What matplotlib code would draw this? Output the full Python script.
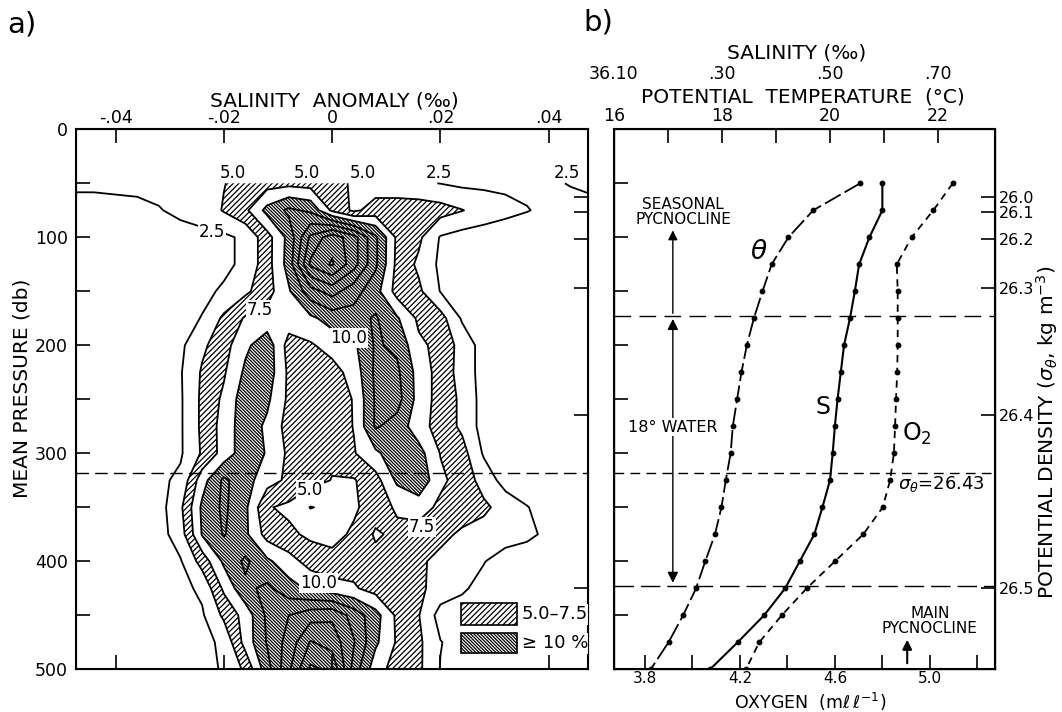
import numpy as np
import matplotlib
matplotlib.use('Agg')
import matplotlib.pyplot as plt
from matplotlib.patches import Rectangle

plt.rcParams['font.family'] = ['DejaVu Sans']
plt.rcParams['hatch.color'] = 'black'
plt.rcParams['hatch.linewidth'] = 0.9
plt.rcParams['mathtext.fontset'] = 'dejavusans'

# ---- a) frequency (%) of salinity anomaly vs pressure ----
anomaly = [-0.048, -0.044, -0.040, -0.036, -0.032, -0.028, -0.024, -0.020, -0.016,
           -0.012, -0.008, -0.004, 0.0, 0.004, 0.008, 0.012, 0.016, 0.020, 0.024,
           0.028, 0.032, 0.036, 0.040, 0.044, 0.048]
grid_pressure = [50, 75, 100, 125, 150, 175, 200, 225, 250, 275, 300, 325, 350,
                 375, 400, 425, 450, 475, 500]
freq = [
    [3.0, 3.0, 3.0, 3.0, 3.0, 3.2, 3.8, 4.9, 6.0, 6.5, 6.8, 6.5, 5.5, 4.8, 3.8, 3.2, 2.8, 2.45, 2.0, 2.0, 2.0, 2.0, 2.2, 2.6, 3.0],
    [1.5, 1.5, 1.8, 2.0, 2.4, 2.9, 3.5, 5.2, 7.0, 10.8, 13.0, 12.0, 7.0, 4.5, 6.0, 6.5, 6.5, 6.0, 5.1, 4.0, 3.2, 2.6, 2.0, 1.8, 1.8],
    [1.0, 1.0, 1.2, 1.4, 1.6, 1.8, 1.9, 2.0, 3.0, 6.5, 10.8, 18.0, 21.5, 18.5, 13.0, 7.0, 5.5, 2.3, 1.5, 1.2, 1.0, 1.0, 1.0, 1.0, 1.0],
    [1.0, 1.0, 1.0, 1.2, 1.4, 1.6, 1.8, 2.0, 3.0, 6.5, 11.0, 20.5, 22.8, 18.5, 13.0, 6.8, 4.5, 2.0, 1.5, 1.2, 1.0, 1.0, 1.0, 1.0, 1.0],
    [1.0, 1.0, 1.0, 1.0, 1.2, 1.5, 2.0, 2.8, 4.5, 6.5, 9.7, 14.0, 16.0, 13.5, 11.0, 6.5, 5.5, 2.4, 1.5, 1.0, 1.0, 1.0, 1.0, 1.0, 1.0],
    [0.8, 0.8, 1.0, 1.1, 1.3, 1.7, 2.6, 5.5, 7.8, 8.5, 8.8, 9.5, 11.0, 11.5, 12.8, 10.3, 7.0, 6.0, 2.2, 1.4, 1.0, 0.8, 0.8, 0.8, 0.8],
    [0.8, 0.8, 1.0, 1.2, 1.5, 2.0, 4.5, 6.5, 9.5, 11.5, 6.5, 7.2, 8.5, 9.5, 12.8, 12.0, 8.0, 6.8, 4.0, 1.5, 1.0, 0.8, 0.8, 0.8, 0.8],
    [0.8, 0.8, 1.0, 1.2, 1.5, 2.3, 5.3, 7.2, 10.5, 11.5, 7.0, 6.0, 6.5, 8.5, 13.0, 13.0, 9.0, 6.5, 4.0, 1.5, 1.0, 0.8, 0.8, 0.8, 0.8],
    [0.8, 0.8, 1.0, 1.2, 1.5, 2.2, 5.5, 8.0, 11.5, 10.5, 7.0, 6.0, 6.5, 7.6, 12.8, 13.5, 9.0, 6.5, 4.5, 1.5, 1.0, 0.8, 0.8, 0.8, 0.8],
    [0.8, 0.8, 1.0, 1.2, 1.5, 2.2, 5.5, 8.5, 11.5, 9.5, 6.5, 6.0, 6.0, 7.6, 12.8, 11.5, 8.5, 6.5, 4.5, 1.5, 1.0, 0.8, 0.8, 0.8, 0.8],
    [0.8, 0.8, 1.0, 1.2, 1.5, 2.2, 5.3, 8.5, 11.5, 9.8, 7.0, 6.0, 5.5, 7.3, 9.5, 11.5, 11.0, 7.4, 6.0, 2.2, 1.2, 0.9, 0.9, 0.9, 0.9],
    [0.8, 0.8, 1.0, 1.2, 2.0, 3.0, 9.0, 13.0, 11.0, 8.5, 7.0, 6.0, 4.9, 4.8, 6.5, 10.5, 12.0, 8.0, 6.5, 4.0, 1.5, 1.0, 0.9, 0.9, 0.9],
    [0.8, 0.8, 1.0, 1.3, 1.5, 4.5, 10.5, 13.0, 10.5, 5.2, 4.5, 2.4, 3.0, 4.5, 6.5, 7.8, 8.5, 7.0, 6.5, 5.5, 4.0, 2.6, 1.5, 1.0, 0.8],
    [0.8, 0.8, 1.0, 1.3, 1.5, 3.8, 10.2, 12.7, 10.5, 6.5, 5.5, 4.5, 4.0, 5.5, 7.8, 7.0, 6.5, 5.8, 4.5, 4.0, 3.5, 3.0, 2.0, 1.2, 1.0],
    [0.8, 0.8, 1.0, 1.3, 1.8, 2.3, 6.0, 10.5, 13.0, 10.5, 8.5, 6.5, 6.0, 6.5, 6.8, 6.5, 5.5, 4.2, 3.5, 2.6, 1.5, 1.2, 1.0, 0.8, 0.8],
    [0.8, 0.8, 1.0, 1.3, 1.5, 1.8, 3.0, 8.0, 12.0, 13.0, 11.0, 9.5, 8.5, 7.8, 6.5, 6.0, 5.5, 4.0, 2.8, 1.8, 1.0, 1.0, 1.0, 1.0, 1.0],
    [0.8, 0.8, 0.9, 1.0, 1.3, 1.6, 2.2, 5.5, 8.5, 13.0, 15.0, 16.5, 17.0, 14.0, 11.0, 7.0, 5.1, 1.5, 1.5, 1.2, 1.0, 1.0, 1.0, 1.0, 1.0],
    [0.8, 0.8, 0.8, 0.9, 1.0, 1.3, 1.8, 3.0, 8.5, 12.7, 16.0, 20.2, 19.0, 15.2, 10.5, 7.2, 5.5, 2.6, 1.5, 1.2, 1.0, 1.0, 1.0, 1.0, 1.0],
    [0.8, 0.8, 0.8, 0.9, 1.0, 1.2, 1.6, 2.8, 5.5, 11.5, 17.0, 23.0, 22.0, 14.0, 8.5, 6.5, 5.5, 2.4, 1.5, 1.0, 1.0, 1.0, 1.0, 1.0, 1.0],
]
line_levels = [2.5, 5.0, 7.5, 10.0, 12.5, 15.0, 17.5, 20.0, 22.5]
anomaly_ticks = [-0.04, -0.02, 0.0, 0.02, 0.04]
anomaly_ticklabels = ['-.04', '-.02', '0', '.02', '.04']

# ---- b) mean profiles ----
profile_pressure = [50, 75, 100, 125, 150, 175, 200, 225, 250, 275, 300, 325, 350,
                    375, 400, 425, 450, 475, 500]
theta = [20.56, 19.69, 19.23, 18.92, 18.75, 18.59, 18.46, 18.36, 18.28, 18.20,
         18.16, 18.07, 17.99, 17.87, 17.69, 17.52, 17.28, 17.01, 16.68]
salinity = [36.597, 36.597, 36.573, 36.554, 36.546, 36.537, 36.526, 36.520, 36.514,
            36.509, 36.505, 36.500, 36.486, 36.471, 36.444, 36.417, 36.378, 36.329, 36.278]
oxygen = [5.096, 5.014, 4.923, 4.860, 4.864, 4.864, 4.864, 4.862, 4.857, 4.853,
          4.848, 4.832, 4.801, 4.719, 4.600, 4.481, 4.376, 4.281, 4.225]
density_pressure = [62.5, 77, 102, 147, 264.5, 425]
density_labels = ['26.0', '26.1', '26.2', '26.3', '26.4', '26.5']
seasonal_top = 173       # top of 18 degree water
sigma_2643 = 318.5       # sigma_theta = 26.43
main_top = 422.5         # sigma_theta = 26.5

LIGHT = '/' * 6
DENSE = '\\' * 10


def fx(px):
    return px / 1062.0


def fy(py):
    return 1 - py / 712.0


fig = plt.figure(figsize=(10.62, 7.12), dpi=100)

# ================= panel a =================
ax = fig.add_axes([fx(76), fy(669.3), fx(587.7) - fx(76), fy(129.3) - fy(669.3)])
A, P = np.meshgrid(anomaly, grid_pressure)
Z = np.array(freq)
ax.contourf(A, P, Z, levels=[5.0, 7.5], colors='none', hatches=[LIGHT])
ax.contourf(A, P, Z, levels=[10.0, 100.0], colors='none', hatches=[DENSE])
ax.contour(A, P, Z, levels=line_levels, colors='k', linewidths=1.3)
ax.axhline(sigma_2643, color='k', lw=1.0, ls=(0, (9, 4.5)))

ax.set_xlim(-0.0473, 0.0472)
ax.set_ylim(500, 0)
ax.xaxis.tick_top()
ax.set_xticks(anomaly_ticks)
ax.set_xticklabels(anomaly_ticklabels)
ax.set_yticks([0, 100, 200, 300, 400, 500])
ax.set_yticks([50, 150, 250, 350, 450], minor=True)
ax.tick_params(axis='both', which='both', direction='in', length=10, width=1.2,
               labelsize=12.5, top=True, bottom=True, left=True, right=False)
ax.tick_params(axis='x', pad=2)
ax.tick_params(axis='y', pad=6)
for sp in ax.spines.values():
    sp.set_linewidth(1.5)

# density ticks on the right spine of a
axr = ax.twinx()
axr.set_ylim(500, 0)
axr.set_yticks(density_pressure)
axr.set_yticklabels([])
axr.tick_params(axis='y', direction='in', length=10, width=1.2)

# contour labels
lab = dict(fontsize=12, ha='center', va='center')
box = dict(fc='white', ec='none', pad=0.6)
for xa in [-0.0183, -0.0046, 0.00575]:
    ax.text(xa, 40, '5.0', **lab)
ax.text(0.0197, 40, '2.5', **lab)
ax.text(0.0434, 40, '2.5', **lab)
ax.text(-0.0222, 95, '2.5', bbox=box, **lab)
ax.text(-0.0134, 167, '7.5', bbox=box, **lab)
ax.text(0.0031, 193, '10.0', bbox=box, **lab)
ax.text(-0.0041, 334, '5.0', bbox=box, **lab)
ax.text(0.0166, 368, '7.5', bbox=box, **lab)
ax.text(-0.0025, 420, '10.0', bbox=box, **lab)

# legend boxes
ax.add_patch(Rectangle((0.0238, 439), 0.0103, 20, facecolor='white', edgecolor='k',
                       hatch=LIGHT, lw=1.2, zorder=5))
ax.add_patch(Rectangle((0.0238, 466), 0.0103, 19, facecolor='white', edgecolor='k',
                       hatch=DENSE, lw=1.2, zorder=5))
ax.text(0.0350, 449, '5.0\u20137.5', fontsize=13, va='center', ha='left', zorder=6,
        bbox=dict(fc='white', ec='none', pad=1))
ax.text(0.0350, 476, '\u2265 10 %', fontsize=13, va='center', ha='left', zorder=6,
        bbox=dict(fc='white', ec='none', pad=1))

fig.text(fx(334), fy(101), 'SALINITY  ANOMALY (\u2030)', fontsize=14.5, ha='center', va='center')
fig.text(fx(22), fy(388), 'MEAN PRESSURE (db)', fontsize=14.5, rotation=90, ha='center', va='center')
fig.text(fx(22), fy(25), 'a)', fontsize=21, ha='center', va='center')

# ================= panel b =================
axb = fig.add_axes([fx(614), fy(669.3), fx(995) - fx(614), fy(129.3) - fy(669.3)])
axb.set_xlim(3.6695, 5.2737)
axb.set_ylim(500, 0)
axb.set_xticks([3.8, 4.0, 4.2, 4.4, 4.6, 4.8, 5.0, 5.2])
axb.set_xticklabels(['3.8', '', '4.2', '', '4.6', '', '5.0', ''])
axb.set_yticks([50, 100, 150, 200, 250, 300, 350, 400, 450])
axb.set_yticklabels([])
axb.tick_params(axis='both', direction='in', length=10, width=1.2, labelsize=11,
                top=False, right=False)
axb.tick_params(axis='x', pad=1)
for sp in axb.spines.values():
    sp.set_linewidth(1.5)

axb.axhline(seasonal_top, color='k', lw=1.0, ls=(0, (12, 6)))
axb.axhline(sigma_2643, color='k', lw=1.0, ls=(0, (7, 4.5)))
axb.axhline(main_top, color='k', lw=1.0, ls=(0, (14, 5)))
axb.plot(oxygen, profile_pressure, color='k', lw=1.3, ls=(0, (4, 3)),
         marker='o', ms=3.2)

# potential temperature (top)
axt = axb.twiny()
axt.set_xlim(16, 23.056)
axt.set_xticks([16, 17, 18, 19, 20, 21, 22])
axt.set_xticklabels(['16', '', '18', '', '20', '', '22'])
axt.tick_params(axis='x', direction='in', length=10, width=1.2, labelsize=12.5, pad=3)
axt.plot(theta, profile_pressure, color='k', lw=1.3, ls=(0, (10, 2.5)),
         marker='o', ms=3.2)

# salinity (top, outer row of labels)
axs = axb.twiny()
axs.set_xlim(36.10, 36.8056)
axs.spines['top'].set_position(('outward', 30))
axs.spines['top'].set_visible(False)
axs.set_xticks([36.10, 36.30, 36.50, 36.70])
axs.set_xticklabels(['36.10', '.30', '.50', '.70'])
axs.tick_params(axis='x', length=0, labelsize=12.5, pad=3)
axs.plot(salinity, profile_pressure, color='k', lw=1.5, marker='o', ms=3.2)

# density on the right
axd = axb.twinx()
axd.set_ylim(500, 0)
axd.set_yticks(density_pressure)
axd.set_yticklabels(density_labels)
axd.tick_params(axis='y', direction='in', length=10, width=1.2, labelsize=11.5, pad=3)

# annotations (theta coordinates)
txt = dict(ha='center', va='center')
axt.text(17.28, 77, 'SEASONAL\nPYCNOCLINE', fontsize=11, linespacing=1.0, **txt)
axt.annotate('', xy=(17.09, 91), xytext=(17.09, seasonal_top),
             arrowprops=dict(arrowstyle='-|>', lw=1.0, color='k', mutation_scale=14))
axt.annotate('', xy=(17.09, seasonal_top), xytext=(17.09, main_top),
             arrowprops=dict(arrowstyle='<|-|>', lw=1.0, color='k', mutation_scale=16))
axt.text(17.09, 276, '18\u00b0 WATER', fontsize=11.5, zorder=6,
         bbox=dict(fc='white', ec='none', pad=1), **txt)
axt.text(18.69, 114, r'$\theta$', fontsize=19, **txt)
axt.text(19.87, 257, 'S', fontsize=17, **txt)
axt.text(21.60, 282, r'O$_2$', fontsize=17, **txt)
axt.text(22.07, 328, r'$\sigma_\theta$=26.43', fontsize=13, **txt)
axt.text(21.85, 455, 'MAIN\nPYCNOCLINE', fontsize=11, linespacing=1.0, **txt)
axt.annotate('', xy=(21.43, 470), xytext=(21.43, 497),
             arrowprops=dict(arrowstyle='-|>', lw=1.5, color='k', mutation_scale=14))

fig.text(fx(810), fy(702), r'OXYGEN  (m$\ell\,\ell^{-1}$)', fontsize=12.5,
         ha='center', va='center')
fig.text(fx(797), fy(53), 'SALINITY (\u2030)', fontsize=14.5, ha='center', va='center')
fig.text(fx(803), fy(97), 'POTENTIAL  TEMPERATURE  (\u00b0C)', fontsize=14.5,
         ha='center', va='center')
fig.text(fx(1047), fy(432), r'POTENTIAL DENSITY ($\sigma_\theta$, kg m$^{-3}$)',
         fontsize=14.5, rotation=90, ha='center', va='center')
fig.text(fx(598), fy(22), 'b)', fontsize=21, ha='center', va='center')

fig.savefig('out.png', dpi=100)
